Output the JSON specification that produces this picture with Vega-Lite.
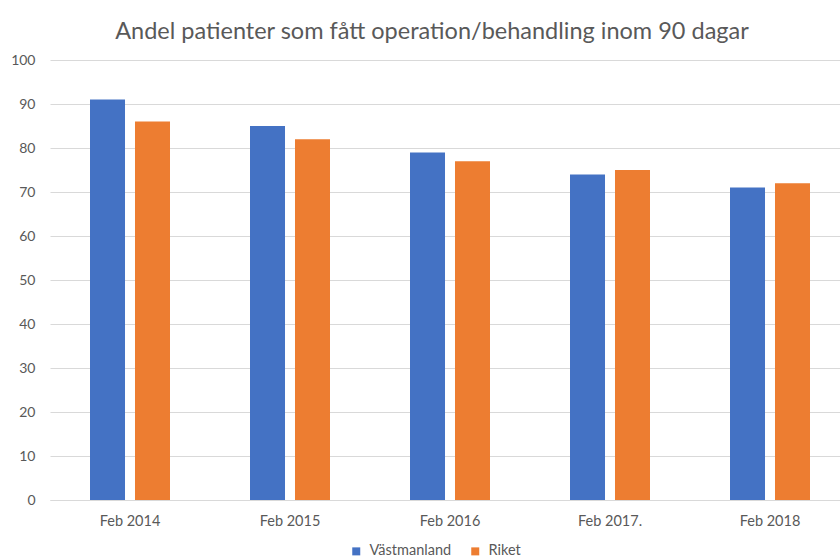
{
  "$schema": "https://vega.github.io/schema/vega-lite/v6.json",
  "autosize": {"type": "none"},
  "width": 790,
  "height": 440,
  "padding": {"left": 50, "top": 60, "right": 0, "bottom": 58},
  "background": "white",
  "title": {
    "text": "Andel patienter som fått operation/behandling inom 90 dagar",
    "font": "Lato",
    "fontSize": 23.5,
    "fontWeight": "normal",
    "color": "#595959",
    "anchor": "middle",
    "dx": -13,
    "offset": 10
  },
  "data": {
    "values": [
      {"period": "Feb 2014", "serie": "Västmanland", "value": 91},
      {"period": "Feb 2014", "serie": "Riket", "value": 86},
      {"period": "Feb 2015", "serie": "Västmanland", "value": 85},
      {"period": "Feb 2015", "serie": "Riket", "value": 82},
      {"period": "Feb 2016", "serie": "Västmanland", "value": 79},
      {"period": "Feb 2016", "serie": "Riket", "value": 77},
      {"period": "Feb 2017.", "serie": "Västmanland", "value": 74},
      {"period": "Feb 2017.", "serie": "Riket", "value": 75},
      {"period": "Feb 2018", "serie": "Västmanland", "value": 71},
      {"period": "Feb 2018", "serie": "Riket", "value": 72}
    ]
  },
  "mark": {"type": "bar"},
  "encoding": {
    "x": {
      "field": "period",
      "type": "nominal",
      "sort": null,
      "scale": {"range": [0, 800], "paddingInner": 0.5, "paddingOuter": 0.25},
      "axis": {
        "title": null,
        "labelAngle": 0,
        "labelFont": "Lato",
        "labelFontSize": 14.5,
        "labelColor": "#595959",
        "labelPadding": 14,
        "ticks": false,
        "domainColor": "#d9d9d9",
        "grid": false
      }
    },
    "xOffset": {
      "field": "serie",
      "type": "nominal",
      "sort": ["Västmanland", "Riket"],
      "scale": {"paddingInner": 0.222, "paddingOuter": 0}
    },
    "y": {
      "field": "value",
      "type": "quantitative",
      "scale": {"domain": [0, 100], "nice": false},
      "axis": {
        "title": null,
        "values": [0, 10, 20, 30, 40, 50, 60, 70, 80, 90, 100],
        "labelFont": "Lato",
        "labelFontSize": 14,
        "labelColor": "#595959",
        "labelPadding": 15,
        "ticks": false,
        "domain": false,
        "gridColor": "#d9d9d9",
        "gridWidth": 1
      }
    },
    "color": {
      "field": "serie",
      "type": "nominal",
      "sort": ["Västmanland", "Riket"],
      "scale": {"domain": ["Västmanland", "Riket"], "range": ["#4472C4", "#ED7D31"]},
      "legend": {
        "title": null,
        "orient": "none",
        "legendX": 299,
        "legendY": 484,
        "direction": "horizontal",
        "symbolType": "square",
        "symbolSize": 64,
        "symbolStrokeWidth": 0,
        "labelFont": "Lato",
        "labelFontSize": 14.5,
        "labelColor": "#595959",
        "labelOffset": 6,
        "columnPadding": 16
      }
    }
  },
  "config": {"view": {"stroke": null}}
}
